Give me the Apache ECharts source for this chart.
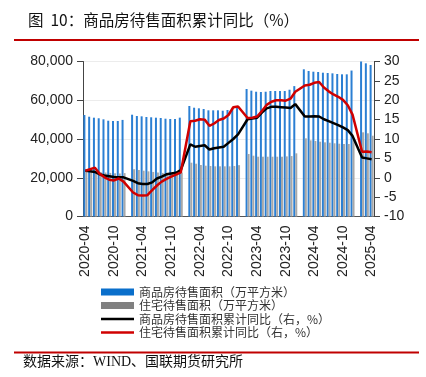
<!DOCTYPE html>
<html>
<head>
<meta charset="utf-8">
<title>商品房待售面积累计同比</title>
<script src="https://cdn.jsdelivr.net/npm/echarts@6/dist/echarts.min.js"></script>
<style>
  html, body { margin: 0; padding: 0; background: #fff; }
  #chart { width: 426px; height: 377px; }
</style>
</head>
<body>
<div id="chart"></div>
<script>
// months 2020-04 .. 2025-04, January has no separate release (null)
var months = [
  '2020-04', '2020-05', '2020-06', '2020-07', '2020-08', '2020-09', '2020-10', '2020-11', '2020-12',
  '2021-01', '2021-02', '2021-03', '2021-04', '2021-05', '2021-06', '2021-07', '2021-08', '2021-09', '2021-10', '2021-11', '2021-12',
  '2022-01', '2022-02', '2022-03', '2022-04', '2022-05', '2022-06', '2022-07', '2022-08', '2022-09', '2022-10', '2022-11', '2022-12',
  '2023-01', '2023-02', '2023-03', '2023-04', '2023-05', '2023-06', '2023-07', '2023-08', '2023-09', '2023-10', '2023-11', '2023-12',
  '2024-01', '2024-02', '2024-03', '2024-04', '2024-05', '2024-06', '2024-07', '2024-08', '2024-09', '2024-10', '2024-11', '2024-12',
  '2025-01', '2025-02', '2025-03', '2025-04'
]

// 商品房待售面积（万平方米）
var allArea = [
  52380, 51500, 51000, 50700, 50150, 49440, 49290, 49290, 49850,
  null, 52540, 51870, 51700, 51350, 51200, 51000, 50840, 50480, 50320, 50320, 51023,
  null, 57030, 56150, 55840, 55480, 54800, 54800, 54800, 54600, 54970, 55600, 56900,
  null, 65800, 64950, 64400, 64250, 64400, 64770, 64770, 64770, 64770, 65440, 67295,
  null, 75970, 75090, 74740, 74570, 74220, 74060, 73890, 73550, 73380, 73380, 75327,
  null, 80100, 79060, 78190
]

// 住宅待售面积（万平方米）
var houseArea = [
  24000, 23600, 23300, 23000, 22700, 22500, 22300, 22200, 22400,
  null, 24400, 24000, 23640, 23300, 23000, 22700, 22500, 22300, 22200, 22100, 22761,
  null, 27770, 27250, 26580, 26220, 26060, 25900, 25900, 25900, 25900, 26060, 26500,
  null, 32260, 31380, 30860, 30860, 30860, 30860, 30860, 30860, 31030, 31200, 32600,
  null, 40340, 39310, 38960, 38610, 38280, 38090, 37780, 37570, 37420, 37420, 39480,
  null, 43450, 42940, 41700
]

// 商品房待售面积累计同比（%）
var allYoy = [
  1.8, 1.7, 1.5, 0.9, 0.6, 0.4, 0.2, 0.1, 0.1,
  null, -0.8, -1.4, -1.6, -1.6, -1.2, -0.2, 0.3, 0.9, 1.1, 1.3, 2.0,
  null, 8.6, 8.0, 8.2, 8.4, 7.3, 7.6, 7.8, 8.0, 9.0, 10.0, 11.2,
  null, 15.1, 15.3, 15.5, 16.8, 17.9, 18.3, 18.3, 18.2, 18.1, 18.0, 19.0,
  null, 15.8, 15.8, 15.9, 15.8, 15.1, 14.6, 14.1, 13.6, 13.0, 12.3, 10.8,
  null, 5.2, 5.0, 4.8
]

// 住宅待售面积累计同比（%）
var houseYoy = [
  1.8, 2.2, 2.6, 1.0, 0.1, -0.5, -0.7, -0.2, -1.0,
  null, -3.8, -4.5, -4.6, -4.5, -3.2, -2.0, -1.0, -0.3, 0.3, 0.8, 1.4,
  null, 14.6, 14.7, 15.1, 15.0, 13.4, 14.0, 14.9, 15.3, 16.2, 18.2, 18.4,
  null, 15.4, 15.5, 15.8, 17.2, 18.8, 19.6, 20.0, 20.0, 19.9, 20.4, 22.2,
  null, 23.8, 24.0, 24.5, 24.7, 23.3, 22.3, 21.5, 20.9, 20.1, 18.7, 16.3,
  null, 6.7, 6.8, 6.6
]

var names = ['商品房待售面积（万平方米）', '住宅待售面积（万平方米）', '商品房待售面积累计同比（右，%）', '住宅待售面积累计同比（右，%）']

var chart = echarts.init(document.getElementById('chart'))
var axisFont = 'Arial, "Liberation Sans", sans-serif'
// thin bar used as legend icon for the two lines
var lineIcon = 'path://M0,0 L33,0 L33,2.5 L0,2.5 Z'

chart.setOption({
  animation: false,
  title: {
    text: '图  10：商品房待售面积累计同比（%）',
    left: 23,
    top: 7,
    textStyle: {
      fontSize: 15.5,
      fontWeight: 'normal',
      color: '#111',
      fontFamily: '"Noto Sans CJK SC", sans-serif'
    }
  },
  graphic: [
    { type: 'rect', shape: { x: 14, y: 39, width: 405, height: 2 }, style: { fill: '#C00000' } },
    { type: 'rect', shape: { x: 14, y: 351.5, width: 405, height: 2 }, style: { fill: '#C00000' } },
    {
      type: 'text', left: 23, top: 355,
      style: {
        text: '数据来源：WIND、国联期货研究所',
        fontSize: 14,
        fill: '#111',
        fontFamily: '"Liberation Serif", "Noto Sans CJK SC", serif'
      }
    }
  ],
  legend: {
    orient: 'vertical',
    left: 96,
    top: 281,
    itemWidth: 33,
    itemHeight: 7,
    itemGap: 1.5,
    symbolKeepAspect: true,
    textStyle: {
      fontSize: 12,
      color: '#333',
      fontFamily: '"Noto Sans CJK SC", sans-serif'
    },
    data: [
      { name: names[0], icon: 'rect', itemStyle: { color: '#0A6FCB' } },
      { name: names[1], icon: 'rect', itemStyle: { color: '#808080' } },
      { name: names[2], icon: lineIcon, itemStyle: { color: '#000', borderWidth: 0 } },
      { name: names[3], icon: lineIcon, itemStyle: { color: '#D00000', borderWidth: 0 } }
    ]
  },
  grid: {
    left: 83,
    right: 52,
    top: 61.5,
    bottom: 160.5
  },
  xAxis: {
    type: 'category',
    data: months,
    boundaryGap: true,
    axisLine: { lineStyle: { color: '#555', width: 1 } },
    axisTick: { interval: 5, alignWithLabel: true, length: 6, lineStyle: { color: '#555' } },
    axisLabel: {
      interval: 5,
      rotate: 90,
      fontSize: 14,
      color: '#222',
      margin: 9,
      fontFamily: axisFont
    }
  },
  yAxis: [
    {
      type: 'value',
      min: 0,
      max: 80000,
      interval: 20000,
      axisLine: { show: true, lineStyle: { color: '#444' } },
      axisTick: { show: true, length: 6, lineStyle: { color: '#444' } },
      splitLine: { lineStyle: { color: '#ECECEC' } },
      axisLabel: {
        fontSize: 14,
        color: '#222',
        margin: 10,
        fontFamily: axisFont,
        formatter: function (v) { return echarts.format.addCommas(v) }
      }
    },
    {
      type: 'value',
      min: -10,
      max: 30,
      interval: 5,
      position: 'right',
      axisLine: { show: true, lineStyle: { color: '#444' } },
      axisTick: { show: true, length: 6, lineStyle: { color: '#444' } },
      splitLine: { show: false },
      axisLabel: {
        fontSize: 14,
        color: '#222',
        margin: 10,
        fontFamily: axisFont
      }
    }
  ],
  series: [
    {
      name: names[0],
      type: 'bar',
      data: allArea,
      barWidth: 2,
      barGap: '0%',
      itemStyle: { color: '#2B7FD3' }
    },
    {
      name: names[1],
      type: 'bar',
      data: houseArea,
      barWidth: 2,
      barGap: '0%',
      itemStyle: { color: '#A8A8A8' }
    },
    {
      name: names[2],
      type: 'line',
      yAxisIndex: 1,
      data: allYoy,
      connectNulls: true,
      symbol: 'none',
      lineStyle: { color: '#000', width: 2.5 },
      itemStyle: { color: '#000' }
    },
    {
      name: names[3],
      type: 'line',
      yAxisIndex: 1,
      data: houseYoy,
      connectNulls: true,
      symbol: 'none',
      lineStyle: { color: '#D00000', width: 2.5 },
      itemStyle: { color: '#D00000' }
    }
  ]
})
</script>
</body>
</html>
